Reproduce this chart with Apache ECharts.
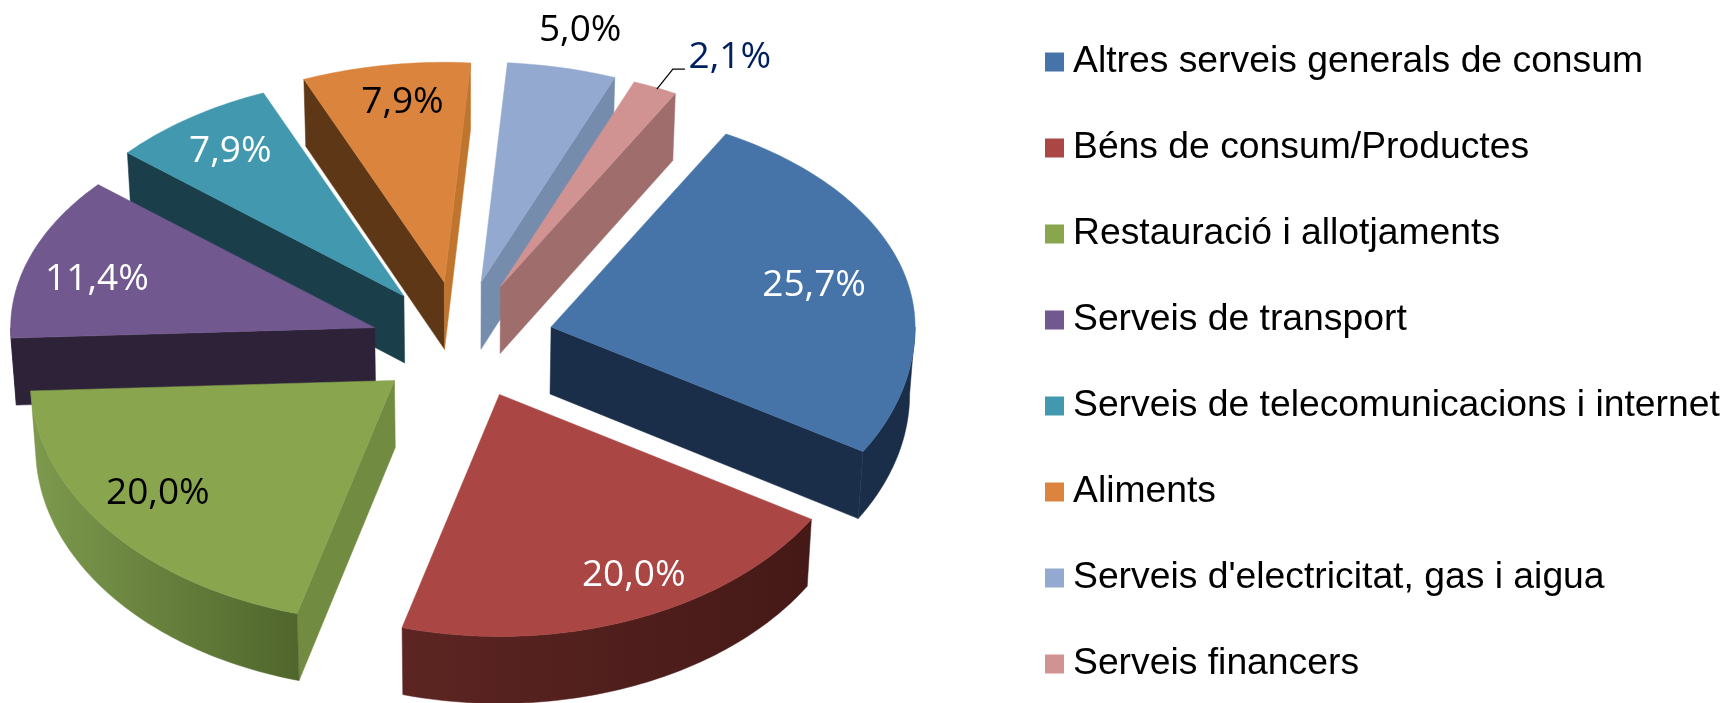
<!DOCTYPE html>
<html>
<head>
<meta charset="utf-8">
<style>html,body{margin:0;padding:0;background:#fff}#c{width:1728px;height:703px}</style>
<script src="https://cdn.jsdelivr.net/npm/echarts@6/dist/echarts.min.js"></script>
</head>
<body>
<div id="c"></div>
<script>
// data
const categories = ['Altres serveis generals de consum','Béns de consum/Productes','Restauració i allotjaments','Serveis de transport','Serveis de telecomunicacions i internet','Aliments',"Serveis d'electricitat, gas i aigua",'Serveis financers'];
const values = [25.7,20.0,20.0,11.4,7.9,7.9,5.0,2.1];
// styles
const topColors = ['#4674a9','#aa4643','#89a54e','#71588f','#4198af','#db843d','#93a9cf','#d19392'];
const startWallColors = ['#1b2e49','#4a1b19','#718b40','#2e2239','#1b3f4a','#5e3716','#768cad','#9e6d6c'];
const endWallColors = ['#1b2e49','#4a1b19','#718b40','#2e2239','#1b3f4a','#c0752f','#768cad','#9e6d6c'];
const rimLeft = ['#1b2e49','#5c2522','#7d9a4d','#2e2239','#1b3f4a','#5e3716','#768cad','#9e6d6c'];
const rimRight = ['#1b2e49','#451917','#50662c','#2e2239','#1b3f4a','#5e3716','#768cad','#9e6d6c'];
const labelColors = ['#fff','#fff','#000','#fff','#fff','#000','#000','#002060'];
const labelFx = [0.7225,0.369,-0.65,-0.763,-0.477,-0.115,0.272,0.63];
const labelFy = [-0.19,0.746,0.465,-0.22,-0.655,-0.818,-1.143,-1.043];
// geometry of the projected pie; perspectiveShift bends each slice's start angle as the 3D view does
const perspectiveShift = [0.7,0.5,3,3,5,3.3,1.7,1.1];
const firstAngle = 28, cx = 463, cy = 344, rx = 364, ryTop = 220, ryBottom = 242, depth = 67, taper = 0.012, explodeX = 91.5, explodeTop = 63, explodeBottom = 55;
const rad = d => d * Math.PI / 180;
const total = values.reduce((a, b) => a + b, 0);
let running = firstAngle;
const starts = values.map(v => { const s = running; running += v / total * 360; return s; });

function makeRender(i) {
  return function (params, api) {
    const s0 = starts[i], s1 = s0 + api.value(0) / total * 360, mid = (s0 + s1) / 2;
    const a0 = s0 + perspectiveShift[i], a1 = s1 + perspectiveShift[(i + 1) % values.length];
    const cm = Math.cos(rad(mid));
    const ox = cx + explodeX * Math.sin(rad(mid));
    const oy = cy - cm * (cm > 0 ? explodeTop : explodeBottom);
    const edge = a => {
      const c = Math.cos(rad(a));
      return [ox + rx * Math.sin(rad(a)), oy - c * (c > 0 ? ryTop : ryBottom)];
    };
    const down = p => [p[0] + (cx - p[0]) * taper, p[1] + depth];
    const apex = [ox, oy];
    const arc = (from, to) => {
      const pts = [], n = Math.max(2, Math.ceil(Math.abs(to - from)));
      for (let k = 0; k <= n; k++) pts.push(edge(from + (to - from) * k / n));
      return pts;
    };
    const kids = [];
    const poly = (pts, fill) => kids.push({ type: 'polygon', shape: { points: pts }, style: { fill: fill, stroke: fill, lineWidth: 0.5 } });
    const norm = a => ((a % 360) + 360) % 360;
    // radial walls facing the viewer
    if (norm(a0) > 180) poly([apex, edge(a0), down(edge(a0)), down(apex)], startWallColors[i]);
    if (norm(a1) < 180) poly([apex, edge(a1), down(edge(a1)), down(apex)], endWallColors[i]);
    // outer rim, front half only
    const from = Math.max(a0, 90), to = Math.min(a1, 270);
    if (to > from) {
      const top = arc(from, to);
      const xs = top.map(p => p[0]);
      const minX = Math.min.apply(null, xs), maxX = Math.max.apply(null, xs);
      poly(top.concat(top.map(down).reverse()), {
        type: 'linear', x: minX, y: 0, x2: maxX, y2: 0, global: true,
        colorStops: [{ offset: 0, color: rimLeft[i] }, { offset: 1, color: rimRight[i] }]
      });
    }
    // top face
    poly([apex].concat(arc(a0, a1)), topColors[i]);
    // label
    const lx = apex[0] + labelFx[i] * rx;
    const ly = apex[1] + labelFy[i] * ryTop * (labelFy[i] > 0 ? ryBottom / ryTop : 1);
    if (api.value(0) < 3) {
      kids.push({ type: 'polyline', shape: { points: [[lx - 73, ly + 32], [lx - 57, ly + 12], [lx - 45, ly + 12]] }, style: { stroke: '#000', lineWidth: 1.2, fill: null } });
    }
    kids.push({
      type: 'text', z2: 10,
      style: {
        text: api.value(0).toFixed(1).replace('.', ',') + '%',
        x: lx, y: ly, align: 'center', verticalAlign: 'middle',
        fill: labelColors[i], font: '37px "Open Sans"'
      }
    });
    return { type: 'group', children: kids };
  };
}

const chart = echarts.init(document.getElementById('c'), null, { renderer: 'canvas' });
chart.setOption({
  animation: false,
  backgroundColor: '#fff',
  color: topColors,
  legend: {
    data: categories,
    orient: 'vertical',
    left: 1040, top: 37,
    icon: 'rect',
    itemWidth: 19, itemHeight: 19,
    itemGap: 46,
    selectedMode: false,
    textStyle: { fontFamily: 'Liberation Sans', fontSize: 37.3, lineHeight: 40, color: '#000', padding: [0, 0, 0, 4] }
  },
  series: categories.map((name, i) => {
    const mid = starts[i] + values[i] / total * 180;
    return {
      type: 'custom',
      name: name,
      coordinateSystem: 'none',
      z: 10 - Math.cos(rad(mid)) * 5,
      itemStyle: { color: topColors[i] },
      renderItem: makeRender(i),
      data: [[values[i]]]
    };
  })
});
</script>
</body>
</html>
